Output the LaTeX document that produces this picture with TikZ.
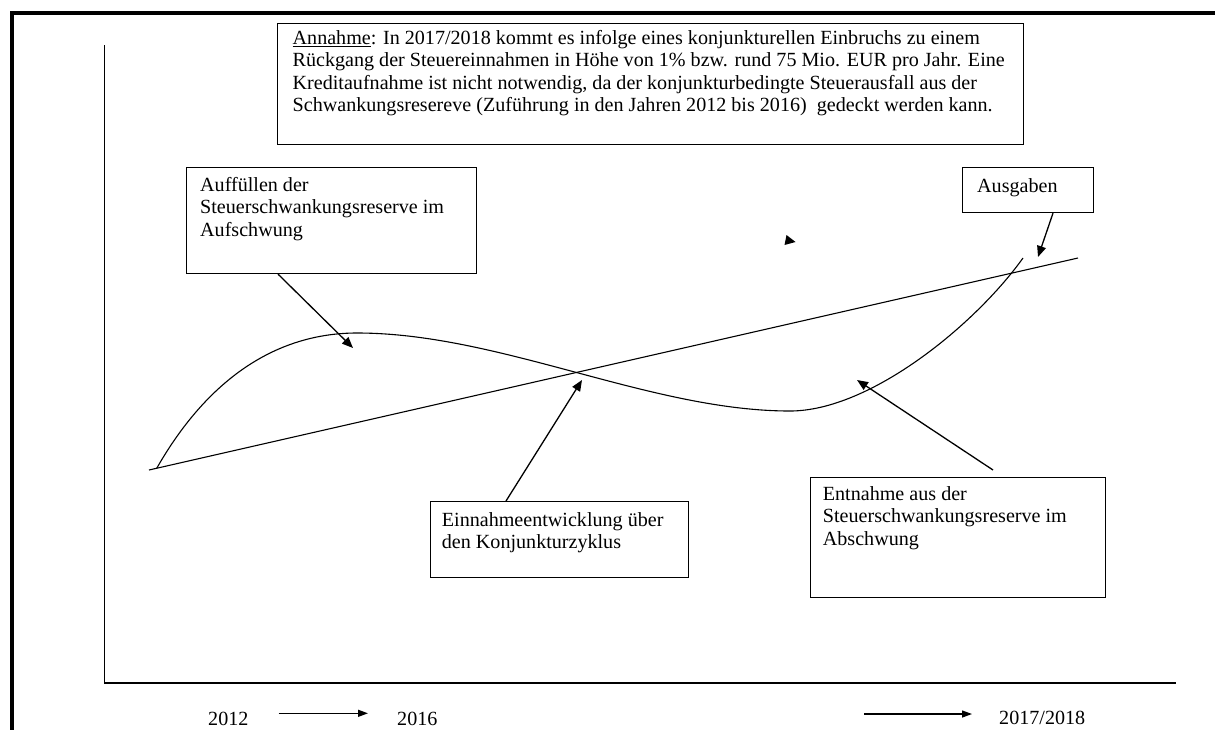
\documentclass[tikz,border=0pt]{standalone}
\usepackage{fontspec}
\setmainfont{Liberation Serif}
\usetikzlibrary{arrows.meta,calc}
\tikzset{
  box/.style={draw, line width=1.1pt, inner sep=0pt, anchor=north west},
  txt/.style={inner sep=0pt, anchor=north west, align=left, font=\fontsize{20.1}{22.2}\selectfont},
  yr/.style={inner sep=0pt, anchor=base west, font=\fontsize{20.1}{22.2}\selectfont},
  arr/.style={line width=1.3pt, -{Triangle[length=11pt,width=9pt]}},
  tarr/.style={line width=1.3pt, -{Triangle[length=10pt,width=7pt]}},
  thinline/.style={line width=1.1pt},
  frameline/.style={line width=4.5pt},
}
\begin{document}
\begin{tikzpicture}[x=1pt,y=-1pt]
\useasboundingbox (0,0) rectangle (1215,729);
% frame
\coordinate (fTL) at (12,13);
\coordinate (fTR) at (1220,13);
\coordinate (fBL) at (12,735);
\draw[frameline] (fBL) -- (fTL) -- (fTR);
% axes
\coordinate (axTop) at (104.5,45);
\coordinate (axOrig) at (104.5,683);
\coordinate (axRight) at (1176,683);
\draw[thinline] (axTop) -- (axOrig) -- (axRight);
% boxes
\node[box, minimum width=746, minimum height=121] (ann) at (277,23) {};
\node[txt] (annt) at (292.5,30.3) {\underline{Annahme}: In 2017/2018 kommt es infolge eines konjunkturellen Einbruchs zu einem\\
R\"uckgang der Steuereinnahmen in H\"ohe von 1\% bzw. rund 75 Mio. EUR pro Jahr. Eine\\
Kreditaufnahme ist nicht notwendig, da der konjunkturbedingte Steuerausfall aus der\\
Schwankungsresereve (Zuf\"uhrung in den Jahren 2012 bis 2016)~ gedeckt werden kann.};
\node[box, minimum width=290, minimum height=106] (auf) at (186,167) {};
\node[txt] (auft) at (200,177.3) {Auff\"ullen der\\Steuerschwankungsreserve im\\Aufschwung};
\node[box, minimum width=131, minimum height=45] (ausg) at (962,167) {};
\node[txt] (ausgt) at (977,178) {Ausgaben};
\node[box, minimum width=258, minimum height=76] (ein) at (430,501) {};
\node[txt] (eint) at (441.7,512.3) {Einnahmeentwicklung \"uber\\den Konjunkturzyklus};
\node[box, minimum width=295, minimum height=120] (ent) at (810,477) {};
\node[txt] (entt) at (822.7,486.6) {Entnahme aus der\\Steuerschwankungsreserve im\\Abschwung};
% expenses line
\coordinate (l0) at (149,470);
\coordinate (l1) at (1078,258);
\draw[thinline] (l0) -- (l1);
% income curve
\coordinate (c0) at (156.7,468.3);
\coordinate (cPeak) at (357,333);
\coordinate (cTrough) at (790,411);
\coordinate (cEnd) at (1023,258);
\draw[thinline] (c0) .. controls (210,375) and (280,333) .. (cPeak)
  .. controls (500,333) and (650,411) .. (cTrough)
  .. controls (870,411) and (975,325) .. (cEnd);
% arrows
\coordinate (pAuf) at (353,348);
\coordinate (pAusg) at (1038,257);
\coordinate (pEin) at (582,380);
\coordinate (pEnt) at (857,380);
\draw[arr] ($(auf.south west)+(92,0)$) -- (pAuf);
\draw[arr] ($(ausg.south west)+(91,0)$) -- (pAusg);
\draw[arr] ($(ein.north west)+(76,0)$) -- (pEin);
\draw[arr] ($(ent.north west)+(183,-7)$) -- (pEnt);
% stray arrowhead
\fill (786.5,235) -- (795.5,242) -- (784.5,245) -- cycle;
% years
\node[yr] (y12) at (208,725) {2012};
\node[yr] (y16) at (397,725) {2016};
\node[yr] (y1718) at (999,724) {2017/2018};
\draw[tarr] ($(y12.base east)+(30,-11.7)$) -- ($(y16.base west)+(-29,-11.7)$);
\coordinate (rStart) at (864,714);
\draw[tarr] (rStart) -- ($(y1718.base west)+(-27,-10)$);
\end{tikzpicture}
\end{document}
